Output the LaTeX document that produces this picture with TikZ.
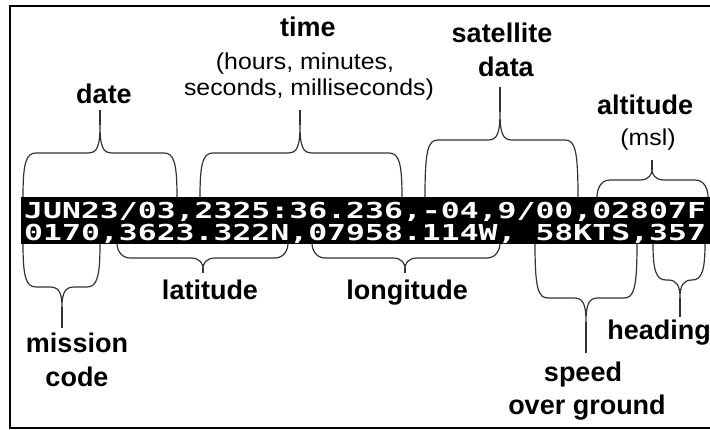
\documentclass[tikz,border=0pt]{standalone}
\usepackage{fontspec}
\setmainfont{Liberation Sans}
\newfontfamily\labfont{Liberation Sans}
\newfontfamily\subfont[FakeStretch=1.08]{Liberation Sans}
\newfontfamily\barfont[FakeStretch=1.43]{DejaVu Sans Mono}
\newcommand\TopBr[7]{%
 \draw[brace] (#1,#4) .. controls (#1,{#5+10}) and ({#1+3},#5) .. ({#1+13},#5)
   -- ({#3-12},#5) .. controls ({#3-3},#5) and (#3,{#5-6}) .. (#3,#6)
   .. controls (#3,{#5-6}) and ({#3+3},#5) .. ({#3+12},#5)
   -- ({#2-13},#5) .. controls ({#2-3},#5) and (#2,{#5+10}) .. (#2,#4);
 \draw[brace] (#3,#6) -- (#3,#7);}
\newcommand\BotBr[7]{%
 \draw[brace] (#1,#4) .. controls (#1,{#5-10}) and ({#1+3},#5) .. ({#1+13},#5)
   -- ({#3-12},#5) .. controls ({#3-3},#5) and (#3,{#5+6}) .. (#3,#6)
   .. controls (#3,{#5+6}) and ({#3+3},#5) .. ({#3+12},#5)
   -- ({#2-13},#5) .. controls ({#2-3},#5) and (#2,{#5-10}) .. (#2,#4);
 \draw[brace] (#3,#6) -- (#3,#7);}
\begin{document}
\begin{tikzpicture}[x=1pt,y=-1pt,
  brace/.style={line width=1.2pt, black!80},
  lab/.style={font=\labfont\bfseries\fontsize{27}{30}\selectfont, inner sep=0pt, anchor=base},
  sub/.style={font=\subfont\fontsize{23}{26}\selectfont, inner sep=0pt, anchor=base},
  bartext/.style={font=\barfont\bfseries\fontsize{22}{22}\selectfont, text=white, inner sep=0pt, anchor=base west}]
\useasboundingbox (0,0) rectangle (710,430);
\clip (0,0) rectangle (710,430);
\draw[line width=2pt] (10,6) rectangle (730,428);
\fill[black] (21,197) rectangle (730,244);
\node[bartext] (row1) at (24,218.5) {JUN23/03,2325:36.236,-04,9/00,02807F};
\node[bartext] (row2) at (24,240.5) {0170,3623.322N,07958.114W, 58KTS,357};
% top braces
\TopBr{23}{177}{100}{197}{153}{125}{110}
\TopBr{200}{402}{300}{197}{153}{125}{110}
\TopBr{425}{578}{500}{197}{140}{112}{87}
\TopBr{597}{708}{652}{197}{180}{170}{160}
% bottom braces
\BotBr{23}{100}{62}{244}{287}{307}{328}
\BotBr{117}{288}{203}{244}{258}{268}{273}
\BotBr{312}{500}{405}{244}{258}{268}{273}
\BotBr{535}{637}{586}{244}{298}{322}{353}
\BotBr{653}{705}{680}{244}{280}{298}{317}
% labels
\node[lab] (date) at (104,104) {date};
\node[lab] (time) at (308,37) {time};
\node[sub] (time2) at (305,70) {(hours, minutes,};
\node[sub] (time3) at (309,96) {seconds, milliseconds)};
\node[lab] (sat1) at (502,43) {satellite};
\node[lab] (sat2) at (506,77) {data};
\node[lab] (alt) at (645,115) {altitude};
\node[sub] (alt2) at (648,146) {(msl)};
\node[lab] (lat) at (210,300) {latitude};
\node[lab] (lon) at (407,300) {longitude};
\node[lab] (mis1) at (77,353) {mission};
\node[lab] (mis2) at (77,387) {code};
\node[lab] (head) at (659,340) {heading};
\node[lab] (spd1) at (583,382) {speed};
\node[lab] (spd2) at (587,415) {over ground};
\end{tikzpicture}
\end{document}
